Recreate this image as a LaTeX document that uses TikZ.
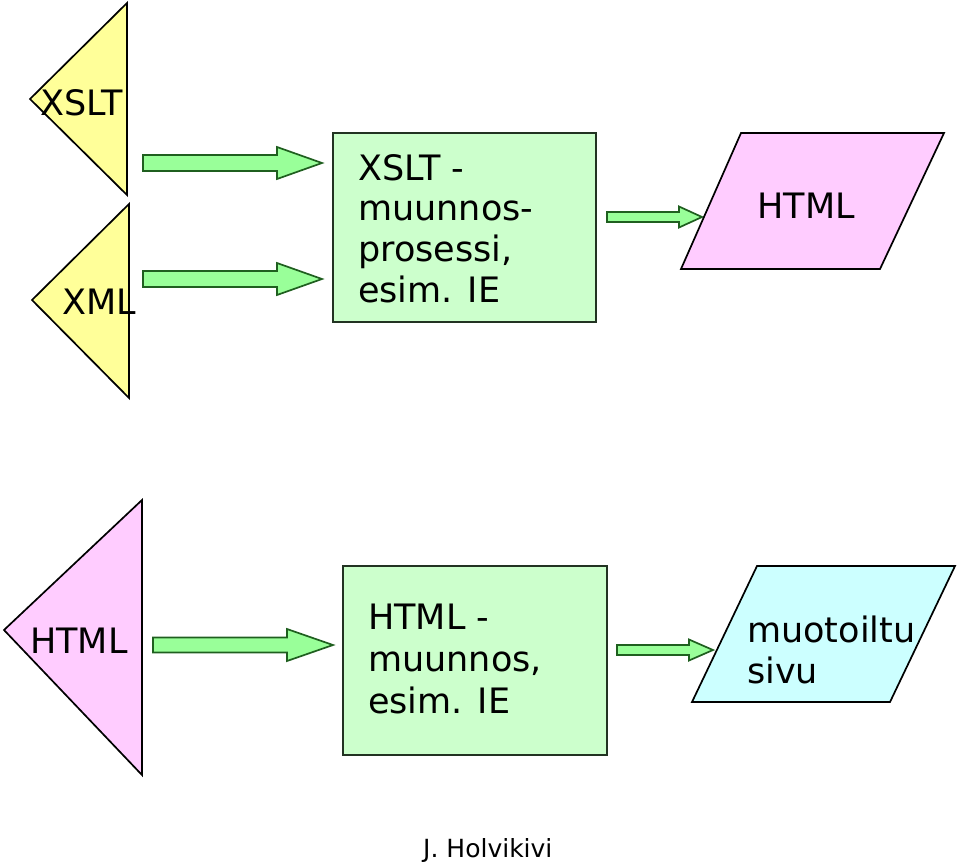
\documentclass[tikz,border=0pt]{standalone}
\usepackage{fontspec}
\setmainfont{DejaVu Sans}
\definecolor{triyellow}{HTML}{FFFF99}
\definecolor{boxgreen}{HTML}{CCFFCC}
\definecolor{arrfill}{HTML}{99FF99}
\definecolor{arrline}{HTML}{1F5F1F}
\definecolor{pinkfill}{HTML}{FFCCFF}
\definecolor{cyanfill}{HTML}{CCFFFF}
\definecolor{boxline}{HTML}{223322}
\newcommand\myblockarrow[7]{% name, xstart, xheadbase, xtip, ymid, shafthalf, headhalf
  \draw[blockarr] (#2,#5-#6) coordinate (#1-tail) -- (#3,#5-#6) -- (#3,#5-#7) -- (#4,#5) coordinate (#1-tip) -- (#3,#5+#7) -- (#3,#5+#6) -- (#2,#5+#6) -- cycle;}
\begin{document}
\begin{tikzpicture}[x=1pt,y=-1pt,
  shapeline/.style={draw=black,line width=1.7pt,line join=miter},
  blockarr/.style={fill=arrfill,draw=arrline,line width=1.7pt,line join=miter},
  procbox/.style={fill=boxgreen,draw=boxline,line width=1.7pt},
  bigtxt/.style={font=\fontsize{35}{41}\selectfont,inner sep=0pt,anchor=base west},
  smalltxt/.style={font=\fontsize{25}{30}\selectfont,inner sep=0pt,anchor=base west}]
\useasboundingbox (0,0) rectangle (960,865);
% --- top row ---
\fill[triyellow] (127,3) -- (30,99) -- (127,195) -- cycle;
\draw[shapeline] (127,3) -- (30,99) -- (127,195) -- cycle;
\node[bigtxt] (txslt) at (40,115) {XSLT};
\fill[triyellow] (129,204) -- (32,300) -- (129,398) -- cycle;
\draw[shapeline] (129,204) -- (32,300) -- (129,398) -- cycle;
\node[bigtxt] (txml) at (62,314) {XML};
\myblockarrow{a1}{143}{277}{322}{163}{8}{16}
\myblockarrow{a2}{143}{277}{322}{279}{8}{16}
\draw[procbox] (333,133) rectangle (596,322);
\node[bigtxt] (b1l1) at (358,180) {XSLT -};
\node[bigtxt] (b1l2) at (358,220) {muunnos-};
\node[bigtxt] (b1l3) at (358,261) {prosessi,};
\node[bigtxt] (b1l4) at (358,302) {esim. IE};
\myblockarrow{a3}{607}{679}{702}{217}{5}{10.5}
\draw[shapeline,fill=pinkfill] (681,269) -- (741,133) -- (944,133) -- (880,269) -- cycle;
\node[bigtxt,anchor=base] (thtml) at (806,218) {HTML};
% --- bottom row ---
\draw[shapeline,fill=pinkfill] (142,500) -- (4,630) -- (142,775) -- cycle;
\node[bigtxt] (thtml2) at (30,653) {HTML};
\myblockarrow{a4}{153}{287}{333}{645}{7.5}{16}
\draw[procbox] (343,566) rectangle (607,755);
\node[bigtxt] (b2l1) at (368,629) {HTML -};
\node[bigtxt] (b2l2) at (368,671) {muunnos,};
\node[bigtxt] (b2l3) at (368,713) {esim. IE};
\myblockarrow{a5}{617}{689}{713}{650}{5}{10.5}
\draw[shapeline,fill=cyanfill] (692,702) -- (757,566) -- (955,566) -- (890,702) -- cycle;
\node[bigtxt] (tmuot1) at (747,642) {muotoiltu};
\node[bigtxt] (tmuot2) at (747,683) {sivu};
\node[smalltxt] (author) at (423,857) {J. Holvikivi};
\end{tikzpicture}
\end{document}
